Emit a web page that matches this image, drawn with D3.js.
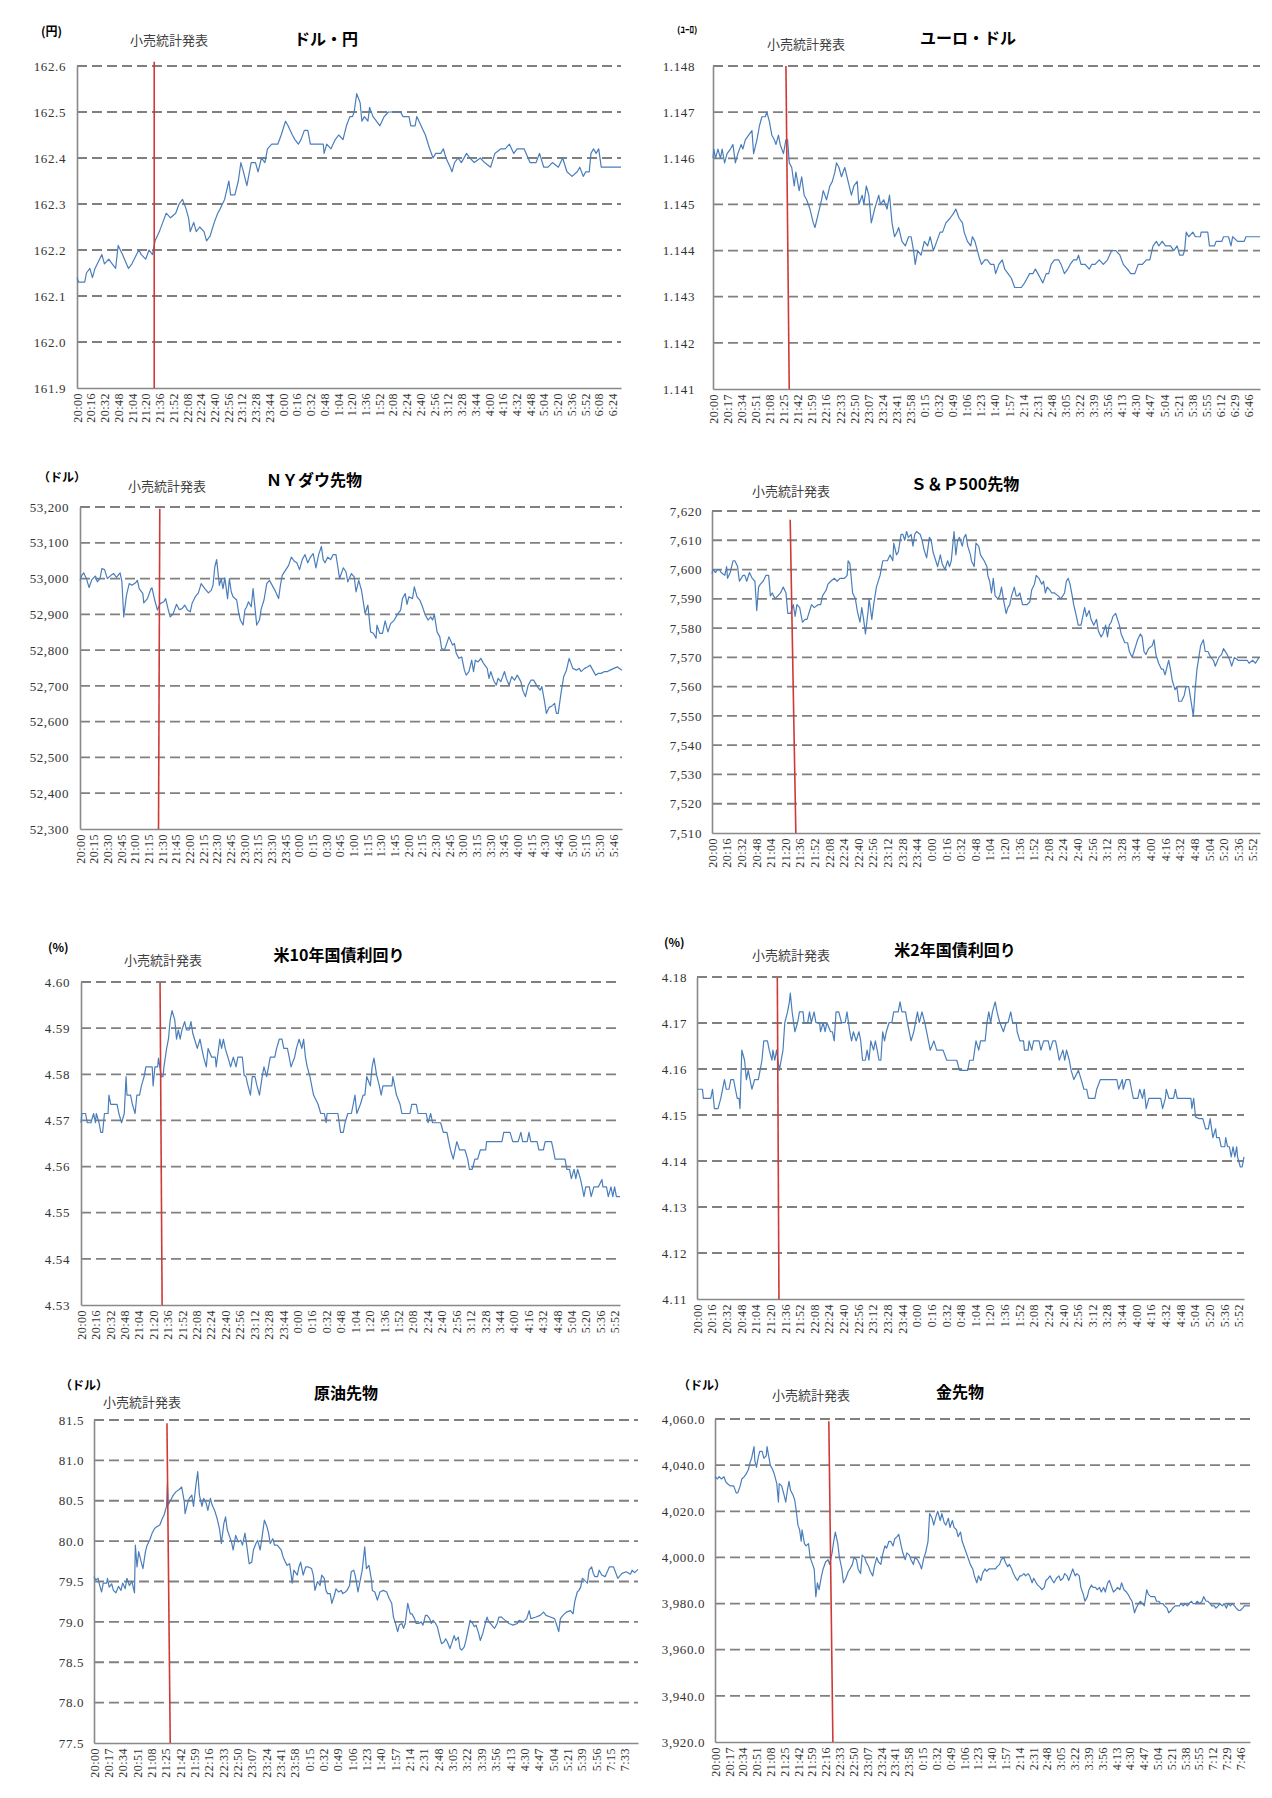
<!DOCTYPE html>
<html>
<head>
<meta charset="utf-8">
<script src="https://d3js.org/d3.v7.min.js"></script>
<style>
  body { margin: 0; background: #fff; }
  .jp { font-family: "Noto Sans CJK JP", sans-serif; }
</style>
</head>
<body>
<svg id="chart" width="1272" height="1798"></svg>
<script>
// ---- x tick labels (category axis, one label every n minutes) ----
var ticks16_624 = ["20:00","20:16","20:32","20:48","21:04","21:20","21:36","21:52","22:08","22:24","22:40","22:56","23:12","23:28","23:44","0:00","0:16","0:32","0:48","1:04","1:20","1:36","1:52","2:08","2:24","2:40","2:56","3:12","3:28","3:44","4:00","4:16","4:32","4:48","5:04","5:20","5:36","5:52","6:08","6:24"];
var ticks16_552 = ticks16_624.slice(0, 38);
var ticks17_646 = ["20:00","20:17","20:34","20:51","21:08","21:25","21:42","21:59","22:16","22:33","22:50","23:07","23:24","23:41","23:58","0:15","0:32","0:49","1:06","1:23","1:40","1:57","2:14","2:31","2:48","3:05","3:22","3:39","3:56","4:13","4:30","4:47","5:04","5:21","5:38","5:55","6:12","6:29","6:46"];
var ticks15_546 = ["20:00","20:15","20:30","20:45","21:00","21:15","21:30","21:45","22:00","22:15","22:30","22:45","23:00","23:15","23:30","23:45","0:00","0:15","0:30","0:45","1:00","1:15","1:30","1:45","2:00","2:15","2:30","2:45","3:00","3:15","3:30","3:45","4:00","4:15","4:30","4:45","5:00","5:15","5:30","5:46"];
var ticksOil = ticks17_646.slice(0, 34).concat(["5:39","5:56","7:15","7:33"]);
var ticksGold = ticks17_646.slice(0, 36).concat(["7:12","7:29","7:46"]);

// ---- y tick values ----
var usdjpyY = [161.9,162.0,162.1,162.2,162.3,162.4,162.5,162.6];
var eurusdY = [1.141,1.142,1.143,1.144,1.145,1.146,1.147,1.148];
var dowY = [52300,52400,52500,52600,52700,52800,52900,53000,53100,53200];
var spY = [7510,7520,7530,7540,7550,7560,7570,7580,7590,7600,7610,7620];
var us10Y = [4.53,4.54,4.55,4.56,4.57,4.58,4.59,4.60];
var us2Y = [4.11,4.12,4.13,4.14,4.15,4.16,4.17,4.18];
var oilY = [77.5,78.0,78.5,79.0,79.5,80.0,80.5,81.0,81.5];
var goldY = [3920,3940,3960,3980,4000,4020,4040,4060];

// ---- series: [minutes after 20:00 (category index), value] ----
var usdjpy = [[0,162.14],[2,162.13],[9,162.13],[11,162.15],[15,162.16],[18,162.14],[21,162.16],[29,162.19],[32,162.17],[37,162.18],[41,162.17],[45,162.16],[48,162.21],[53,162.19],[60,162.16],[64,162.17],[72,162.20],[75,162.19],[80,162.18],[84,162.20],[88,162.19],[91,162.22],[96,162.24],[100,162.26],[104,162.28],[109,162.27],[115,162.28],[119,162.30],[123,162.31],[127,162.29],[130,162.27],[132,162.24],[136,162.26],[139,162.24],[143,162.25],[148,162.24],[151,162.22],[155,162.23],[160,162.26],[164,162.28],[167,162.29],[172,162.31],[177,162.35],[179,162.32],[184,162.32],[188,162.35],[191,162.39],[194,162.37],[198,162.34],[203,162.39],[208,162.39],[211,162.37],[215,162.40],[219,162.39],[222,162.42],[227,162.43],[234,162.43],[238,162.45],[243,162.48],[246,162.47],[251,162.45],[254,162.44],[258,162.43],[261,162.44],[265,162.46],[269,162.46],[272,162.43],[279,162.43],[287,162.43],[288,162.41],[291,162.43],[296,162.42],[301,162.44],[305,162.45],[310,162.44],[314,162.47],[318,162.49],[321,162.49],[323,162.50],[326,162.54],[330,162.52],[332,162.48],[335,162.49],[339,162.48],[341,162.51],[345,162.49],[349,162.48],[353,162.47],[358,162.49],[363,162.50],[377,162.50],[380,162.49],[387,162.49],[389,162.47],[394,162.47],[396,162.49],[401,162.47],[406,162.45],[411,162.42],[415,162.40],[418,162.41],[424,162.41],[427,162.42],[430,162.40],[435,162.38],[437,162.37],[440,162.39],[444,162.40],[448,162.39],[454,162.41],[458,162.40],[463,162.39],[470,162.40],[475,162.39],[482,162.38],[487,162.41],[494,162.42],[499,162.42],[504,162.43],[509,162.41],[513,162.42],[521,162.42],[528,162.39],[535,162.39],[539,162.41],[544,162.38],[549,162.38],[554,162.39],[561,162.38],[566,162.40],[571,162.37],[577,162.36],[583,162.37],[586,162.38],[590,162.36],[593,162.37],[597,162.37],[599,162.41],[602,162.42],[605,162.41],[608,162.42],[611,162.38],[634,162.38]];

var eurusd = [[0,1.1460],[1,1.1462],[3,1.1460],[6,1.1462],[9,1.1460],[11,1.1462],[14,1.1459],[17,1.1461],[21,1.1462],[24,1.1463],[27,1.1459],[30,1.1461],[34,1.1463],[36,1.1462],[39,1.1464],[43,1.1465],[47,1.1466],[49,1.1461],[53,1.1464],[56,1.1467],[59,1.1469],[63,1.1469],[65,1.1470],[68,1.1468],[71,1.1465],[74,1.1464],[76,1.1463],[79,1.1465],[81,1.1463],[85,1.1461],[88,1.1464],[90,1.1464],[92,1.1459],[95,1.1458],[98,1.1454],[100,1.1457],[104,1.1453],[107,1.1456],[110,1.1452],[113,1.1451],[117,1.1449],[121,1.1446],[123,1.1445],[127,1.1448],[131,1.1451],[133,1.1453],[137,1.1451],[141,1.1454],[144,1.1455],[147,1.1457],[149,1.1459],[152,1.1458],[155,1.1456],[159,1.1458],[163,1.1455],[167,1.1452],[170,1.1454],[174,1.1455],[176,1.1450],[180,1.1452],[182,1.1450],[185,1.1454],[188,1.1452],[191,1.1446],[195,1.1449],[200,1.1452],[202,1.1450],[206,1.1451],[210,1.1449],[213,1.1452],[216,1.1446],[219,1.1443],[222,1.1444],[224,1.1445],[228,1.1442],[232,1.1441],[236,1.1443],[239,1.1443],[242,1.1440],[244,1.1437],[247,1.1440],[251,1.1439],[255,1.1442],[259,1.1441],[262,1.1443],[266,1.1440],[270,1.1442],[274,1.1444],[277,1.1444],[281,1.1446],[286,1.1447],[290,1.1448],[293,1.1449],[297,1.1447],[301,1.1446],[303,1.1444],[307,1.1442],[311,1.1441],[313,1.1443],[316,1.1442],[319,1.1440],[322,1.1438],[324,1.1437],[328,1.1438],[331,1.1438],[335,1.1437],[339,1.1437],[341,1.1435],[345,1.1437],[349,1.1438],[352,1.1436],[356,1.1435],[360,1.1434],[364,1.1432],[372,1.1432],[376,1.1433],[379,1.1434],[382,1.1435],[386,1.1435],[389,1.1436],[392,1.1435],[395,1.1434],[398,1.1433],[402,1.1435],[405,1.1435],[408,1.1437],[412,1.1438],[417,1.1438],[420,1.1437],[424,1.1435],[428,1.1436],[431,1.1437],[435,1.1438],[439,1.1438],[441,1.1439],[444,1.1437],[449,1.1437],[454,1.1436],[457,1.1437],[461,1.1437],[466,1.1438],[471,1.1437],[476,1.1438],[481,1.1440],[486,1.1440],[491,1.1439],[495,1.1437],[500,1.1436],[504,1.1435],[509,1.1435],[513,1.1437],[518,1.1437],[523,1.1438],[527,1.1438],[531,1.1441],[535,1.1442],[538,1.1441],[542,1.1442],[546,1.1441],[552,1.1441],[556,1.1440],[560,1.1441],[563,1.1439],[567,1.1439],[569,1.1440],[571,1.1444],[574,1.1443],[579,1.1444],[582,1.1443],[588,1.1443],[589,1.1444],[597,1.1444],[599,1.1441],[605,1.1441],[607,1.1442],[614,1.1442],[616,1.1443],[622,1.1443],[625,1.1441],[627,1.1443],[633,1.1442],[641,1.1442],[643,1.1443],[660,1.1443]];

var dow = [[0,52995],[2,53009],[4,53016],[7,53000],[10,52975],[13,52997],[17,53007],[19,52991],[22,53000],[24,53028],[27,53025],[30,53000],[34,53009],[37,53014],[40,53003],[44,53016],[46,52991],[48,52893],[51,52953],[54,52986],[57,52981],[61,52988],[63,52995],[65,52972],[69,52958],[70,52932],[74,52944],[78,52972],[79,52974],[82,52940],[85,52912],[88,52930],[92,52935],[94,52944],[97,52912],[99,52893],[102,52900],[106,52928],[109,52913],[112,52916],[115,52926],[118,52912],[121,52907],[123,52930],[127,52951],[130,52960],[133,52986],[137,52972],[141,52960],[144,52967],[146,52981],[148,53033],[150,53053],[153,52981],[155,53000],[157,52972],[159,53002],[162,52944],[164,53000],[166,52963],[168,52949],[172,52940],[174,52907],[176,52884],[179,52870],[181,52912],[183,52921],[185,52935],[188,52921],[190,52972],[192,52921],[194,52870],[197,52884],[199,52916],[202,52940],[205,52986],[208,52995],[211,52981],[214,52967],[218,52944],[220,52981],[222,53009],[226,53025],[229,53037],[232,53060],[235,53049],[238,53044],[241,53025],[244,53053],[247,53067],[250,53044],[253,53060],[256,53070],[259,53030],[262,53067],[265,53090],[267,53053],[269,53044],[272,53060],[275,53053],[278,53067],[281,53067],[283,53033],[285,53000],[289,53030],[292,53019],[294,52991],[298,53014],[301,53005],[303,52963],[306,52995],[309,52967],[311,52935],[313,52902],[316,52926],[319,52851],[322,52847],[325,52833],[326,52870],[329,52847],[332,52847],[335,52882],[338,52851],[341,52874],[345,52884],[349,52902],[352,52912],[354,52944],[357,52958],[359,52928],[361,52949],[365,52944],[367,52977],[370,52949],[373,52940],[376,52921],[379,52898],[382,52884],[385,52893],[387,52884],[389,52900],[392,52851],[395,52837],[397,52805],[400,52800],[402,52814],[405,52837],[409,52814],[411,52819],[413,52791],[416,52777],[419,52781],[422,52744],[424,52730],[427,52740],[430,52772],[432,52740],[434,52772],[437,52767],[440,52777],[443,52763],[447,52749],[449,52721],[451,52740],[454,52716],[457,52702],[459,52721],[462,52712],[466,52740],[468,52721],[471,52702],[474,52726],[477,52716],[480,52730],[484,52712],[486,52688],[489,52670],[492,52702],[495,52716],[498,52716],[502,52698],[505,52688],[507,52698],[510,52656],[512,52623],[515,52640],[518,52644],[521,52651],[523,52623],[525,52623],[528,52679],[531,52726],[534,52744],[537,52777],[539,52763],[541,52749],[545,52744],[548,52749],[550,52740],[554,52749],[557,52753],[560,52758],[563,52744],[566,52730],[569,52735],[572,52735],[576,52740],[579,52740],[582,52744],[586,52749],[590,52753],[593,52747],[595,52744]];

var sp500 = [[0,7598.6],[1,7600],[4,7599],[6,7600],[8,7600],[10,7599],[14,7598],[16,7601],[17,7597],[20,7599],[23,7603],[25,7603],[28,7601],[30,7596],[34,7598],[36,7598],[38,7596],[41,7599],[44,7597],[47,7596],[49,7586],[51,7594],[53,7595],[56,7596],[59,7598],[62,7598],[64,7591],[66,7592],[69,7590],[72,7591],[75,7592],[78,7594],[81,7592],[83,7585],[86,7585],[89,7588],[91,7584],[93,7588],[96,7587],[99,7582],[102,7583],[104,7583],[107,7586],[109,7588],[112,7587],[116,7588],[119,7588],[121,7591],[125,7593],[127,7595],[130,7596],[134,7597],[137,7596],[140,7597],[145,7597],[148,7598],[149,7603],[151,7602],[154,7592],[157,7590],[159,7586],[162,7582],[164,7587],[166,7583],[168,7578],[171,7586],[172,7590],[175,7583],[177,7588],[180,7594],[181,7595],[184,7598],[187,7603],[190,7603],[192,7603],[195,7605],[198,7603],[199,7609],[202,7605],[204,7606],[207,7612],[209,7612],[211,7610],[213,7613],[215,7611],[218,7612],[220,7608],[222,7612],[224,7613],[228,7612],[230,7610],[232,7607],[235,7604],[238,7611],[240,7610],[242,7606],[245,7603],[247,7601],[250,7605],[252,7602],[255,7600],[258,7603],[260,7601],[262,7603],[265,7613],[267,7605],[269,7610],[271,7611],[274,7608],[276,7611],[278,7612],[280,7608],[283,7605],[284,7603],[287,7601],[289,7609],[292,7608],[294,7605],[296,7604],[298,7603],[301,7601],[302,7598],[304,7596],[306,7592],[308,7597],[310,7591],[313,7590],[315,7591],[317,7594],[319,7590],[322,7585],[324,7587],[326,7588],[328,7591],[331,7594],[333,7591],[335,7591],[337,7592],[340,7588],[343,7588],[345,7588],[348,7589],[350,7593],[353,7595],[355,7598],[358,7597],[361,7595],[363,7596],[365,7592],[367,7594],[370,7593],[372,7592],[375,7592],[379,7591],[382,7590],[386,7592],[388,7596],[390,7597],[392,7595],[395,7590],[396,7588],[399,7584],[401,7581],[404,7581],[406,7584],[408,7587],[410,7584],[413,7586],[415,7583],[418,7581],[421,7583],[423,7579],[426,7577],[428,7578],[431,7581],[433,7577],[435,7581],[437,7582],[439,7584],[442,7585],[444,7583],[446,7581],[448,7578],[452,7575],[455,7575],[457,7572],[460,7570],[462,7572],[464,7574],[466,7576],[469,7578],[471,7577],[473,7572],[475,7571],[478,7573],[482,7574],[484,7576],[486,7571],[489,7568],[492,7566],[494,7566],[496,7564],[500,7569],[502,7566],[504,7562],[507,7559],[509,7560],[511,7555],[514,7555],[517,7557],[519,7560],[522,7560],[525,7554],[527,7550],[529,7559],[531,7566],[533,7570],[535,7574],[538,7576],[540,7572],[543,7572],[546,7570],[549,7569],[551,7567],[555,7570],[558,7571],[560,7573],[564,7571],[567,7569],[569,7567],[572,7570],[576,7569],[579,7569],[583,7569],[586,7569],[588,7568],[592,7569],[595,7568],[599,7570]];

var us10 = [[0,4.5695],[1,4.5715],[5,4.5715],[7,4.5695],[11,4.5695],[14,4.5715],[16,4.5695],[17,4.5715],[20,4.5695],[22,4.5674],[24,4.5674],[26,4.5715],[30,4.5715],[31,4.5755],[33,4.5735],[40,4.5735],[42,4.5715],[45,4.5695],[48,4.5715],[50,4.5795],[51,4.5755],[55,4.5755],[57,4.5735],[60,4.5715],[62,4.5755],[65,4.5755],[67,4.5775],[70,4.5795],[72,4.5816],[79,4.5816],[80,4.5775],[82,4.5816],[85,4.5816],[86,4.5835],[89,4.5795],[91,4.5795],[92,4.5816],[95,4.5856],[97,4.5876],[99,4.5918],[101,4.5938],[104,4.5918],[106,4.5876],[108,4.5896],[110,4.5876],[112,4.5896],[115,4.5914],[117,4.5896],[120,4.5896],[122,4.5914],[124,4.5889],[126,4.5876],[129,4.5856],[132,4.5876],[134,4.5856],[136,4.5837],[139,4.5816],[141,4.5856],[145,4.5837],[149,4.5837],[150,4.5816],[154,4.5876],[156,4.5856],[158,4.5876],[160,4.5856],[163,4.5837],[166,4.5816],[169,4.5837],[172,4.5816],[174,4.5837],[179,4.5837],[181,4.5798],[183,4.5795],[185,4.5777],[188,4.5755],[190,4.5795],[193,4.5795],[195,4.5777],[198,4.5755],[201,4.5795],[203,4.5816],[206,4.5795],[208,4.5816],[210,4.5837],[215,4.5837],[217,4.5856],[220,4.5876],[223,4.5876],[225,4.5856],[229,4.5856],[231,4.5837],[233,4.5816],[237,4.5837],[239,4.5856],[242,4.5876],[245,4.5856],[247,4.5876],[249,4.5837],[251,4.5816],[254,4.5795],[256,4.5775],[258,4.5755],[263,4.5735],[266,4.5715],[270,4.5715],[272,4.5695],[273,4.5715],[285,4.5715],[288,4.5674],[291,4.5674],[293,4.5695],[296,4.5715],[300,4.5715],[304,4.5755],[306,4.5715],[310,4.5735],[313,4.5755],[315,4.5755],[317,4.5795],[321,4.5775],[323,4.5816],[325,4.5835],[328,4.5798],[331,4.5775],[333,4.5755],[335,4.5775],[345,4.5775],[346,4.5795],[348,4.5775],[350,4.5755],[354,4.5735],[356,4.5715],[365,4.5715],[367,4.5735],[372,4.5735],[374,4.5715],[383,4.5715],[385,4.5695],[388,4.5715],[390,4.5695],[399,4.5695],[402,4.5674],[406,4.5674],[408,4.5654],[410,4.5636],[413,4.5616],[415,4.5636],[417,4.5654],[420,4.5636],[426,4.5636],[429,4.5616],[431,4.5594],[434,4.5594],[437,4.5616],[440,4.5616],[443,4.5636],[449,4.5636],[450,4.5654],[467,4.5654],[469,4.5674],[476,4.5674],[479,4.5654],[485,4.5654],[488,4.5674],[490,4.5654],[495,4.5654],[497,4.5674],[499,4.5654],[506,4.5654],[508,4.5636],[513,4.5636],[515,4.5654],[522,4.5654],[524,4.5636],[526,4.5616],[537,4.5616],[539,4.5594],[542,4.5594],[544,4.5574],[547,4.5594],[549,4.5574],[551,4.5594],[554,4.5574],[556,4.5556],[558,4.5535],[560,4.5556],[564,4.5556],[566,4.5535],[569,4.5556],[574,4.5556],[578,4.5572],[579,4.5556],[583,4.5556],[585,4.5535],[588,4.5556],[590,4.5535],[592,4.5556],[594,4.5535],[598,4.5535]];

var us2 = [[0,4.1556],[6,4.1556],[7,4.1536],[15,4.1536],[17,4.1556],[19,4.1514],[23,4.1514],[26,4.1536],[28,4.1556],[30,4.1577],[32,4.1556],[35,4.1556],[37,4.1577],[40,4.1577],[42,4.1556],[44,4.1536],[46,4.1536],[47,4.1514],[49,4.1641],[52,4.1619],[54,4.1577],[56,4.1597],[58,4.1577],[60,4.1556],[63,4.1577],[67,4.1577],[69,4.1597],[71,4.1619],[73,4.1661],[77,4.1661],[79,4.1641],[82,4.1619],[83,4.1641],[85,4.1619],[87,4.1641],[90,4.1597],[92,4.1619],[94,4.1641],[96,4.1701],[99,4.1724],[101,4.1746],[102,4.1765],[104,4.1724],[107,4.1681],[110,4.1701],[112,4.1724],[116,4.1724],[117,4.1701],[121,4.1701],[123,4.1724],[125,4.1701],[128,4.1724],[130,4.1701],[134,4.1701],[135,4.1681],[138,4.1701],[140,4.1681],[142,4.1701],[146,4.1681],[148,4.1681],[150,4.1661],[152,4.1724],[155,4.1724],[158,4.1701],[162,4.1701],[164,4.1724],[167,4.1681],[169,4.1661],[171,4.1681],[174,4.1661],[177,4.1681],[179,4.1661],[181,4.1619],[184,4.1619],[186,4.1641],[188,4.1619],[190,4.1661],[193,4.1641],[195,4.1661],[197,4.1641],[199,4.1619],[201,4.1619],[203,4.1681],[205,4.1661],[207,4.1681],[210,4.1701],[213,4.1701],[215,4.1724],[220,4.1724],[222,4.1746],[224,4.1724],[228,4.1724],[230,4.1701],[232,4.1681],[234,4.1661],[237,4.1681],[241,4.1724],[243,4.1701],[246,4.1724],[249,4.1701],[251,4.1681],[253,4.1661],[255,4.1641],[259,4.1661],[262,4.1641],[269,4.1641],[273,4.1619],[284,4.1619],[287,4.1597],[296,4.1597],[298,4.1619],[302,4.1619],[305,4.1661],[308,4.1641],[310,4.1661],[315,4.1661],[317,4.1701],[319,4.1724],[321,4.1701],[323,4.1724],[326,4.1746],[328,4.1724],[331,4.1701],[335,4.1681],[338,4.1701],[340,4.1701],[343,4.1724],[345,4.1701],[349,4.1701],[350,4.1681],[353,4.1661],[357,4.1661],[358,4.1641],[362,4.1641],[363,4.1661],[366,4.1641],[368,4.1661],[374,4.1661],[376,4.1641],[379,4.1661],[384,4.1661],[386,4.1641],[389,4.1661],[392,4.1661],[394,4.1641],[396,4.1619],[400,4.1641],[402,4.1619],[404,4.1641],[407,4.1619],[409,4.1597],[412,4.1577],[417,4.1597],[420,4.1577],[423,4.1556],[426,4.1556],[428,4.1536],[435,4.1536],[437,4.1556],[441,4.1577],[459,4.1577],[461,4.1556],[465,4.1577],[466,4.1556],[469,4.1577],[473,4.1577],[475,4.1556],[477,4.1536],[482,4.1536],[484,4.1556],[487,4.1536],[489,4.1556],[491,4.1514],[494,4.1536],[507,4.1536],[509,4.1514],[512,4.1536],[513,4.1556],[516,4.1536],[521,4.1536],[523,4.1556],[525,4.1536],[540,4.1536],[541,4.1514],[543,4.1536],[545,4.1496],[549,4.1492],[553,4.1492],[556,4.1470],[559,4.1470],[561,4.1492],[564,4.1451],[567,4.1470],[568,4.1451],[571,4.1451],[573,4.1431],[577,4.1431],[578,4.1451],[580,4.1431],[582,4.1431],[584,4.1409],[586,4.1431],[588,4.1409],[590,4.1431],[591,4.1409],[594,4.1387],[596,4.1387],[598,4.1409]];

var oil = [[0,79.56],[2,79.52],[5,79.54],[6,79.48],[9,79.37],[11,79.48],[15,79.48],[16,79.54],[18,79.43],[21,79.47],[23,79.39],[26,79.36],[29,79.44],[32,79.39],[34,79.48],[37,79.41],[39,79.54],[42,79.45],[45,79.50],[48,79.36],[49,79.95],[51,79.68],[53,79.87],[56,79.74],[58,79.66],[61,79.87],[63,79.95],[66,80.01],[69,80.10],[72,80.16],[75,80.18],[78,80.20],[81,80.28],[83,80.32],[86,80.43],[87,80.71],[88,80.45],[91,80.51],[94,80.57],[97,80.61],[101,80.64],[104,80.67],[107,80.49],[108,80.34],[111,80.47],[113,80.53],[116,80.57],[118,80.43],[121,80.71],[123,80.86],[125,80.57],[128,80.43],[130,80.53],[133,80.47],[135,80.38],[138,80.53],[140,80.45],[143,80.38],[146,80.28],[149,80.14],[151,79.97],[154,80.22],[156,80.30],[158,80.14],[161,80.05],[163,79.99],[165,79.89],[168,80.07],[171,79.99],[174,80.01],[176,79.95],[179,80.10],[181,79.95],[184,79.72],[187,79.74],[189,79.89],[192,79.97],[194,80.01],[197,79.89],[199,80.03],[202,80.26],[205,80.18],[207,80.10],[209,79.97],[212,80.03],[214,79.95],[217,79.95],[219,79.93],[222,79.89],[224,79.81],[226,79.76],[229,79.70],[232,79.72],[235,79.48],[237,79.64],[241,79.58],[243,79.68],[245,79.74],[248,79.58],[251,79.68],[254,79.68],[258,79.66],[260,79.58],[262,79.39],[265,79.50],[268,79.45],[270,79.58],[273,79.54],[275,79.39],[277,79.35],[280,79.35],[282,79.23],[285,79.33],[287,79.41],[290,79.37],[293,79.39],[295,79.35],[298,79.37],[300,79.39],[303,79.45],[305,79.62],[308,79.64],[310,79.56],[313,79.37],[315,79.48],[318,79.64],[321,79.93],[323,79.66],[326,79.70],[329,79.52],[330,79.39],[333,79.37],[336,79.27],[339,79.37],[343,79.39],[347,79.37],[350,79.29],[353,79.23],[355,79.06],[357,79.00],[360,78.88],[362,78.96],[365,78.98],[367,78.92],[369,78.98],[372,79.23],[375,79.10],[377,79.10],[380,79.04],[382,78.98],[385,78.98],[388,79.00],[390,78.96],[393,79.08],[395,79.08],[398,79.04],[400,78.98],[402,79.02],[405,78.98],[407,78.94],[410,78.81],[412,78.73],[415,78.75],[417,78.79],[419,78.75],[422,78.67],[424,78.73],[427,78.83],[429,78.77],[432,78.81],[434,78.67],[436,78.65],[439,78.69],[441,78.77],[444,78.92],[446,79.02],[449,78.98],[451,78.94],[453,78.96],[456,78.86],[458,78.77],[461,78.86],[463,78.94],[466,79.06],[468,79.00],[470,78.98],[473,78.94],[475,78.92],[478,78.98],[480,79.06],[483,79.06],[485,79.04],[490,79.00],[492,78.98],[497,78.96],[502,78.98],[504,79.02],[509,79.00],[513,79.04],[516,79.14],[518,79.04],[524,79.06],[529,79.08],[533,79.12],[536,79.08],[541,79.06],[546,79.04],[548,78.98],[551,78.88],[553,79.04],[556,79.08],[560,79.12],[565,79.14],[568,79.10],[570,79.25],[573,79.37],[575,79.39],[577,79.43],[579,79.54],[581,79.52],[585,79.48],[587,79.64],[590,79.68],[592,79.60],[594,79.56],[597,79.56],[599,79.64],[602,79.58],[606,79.56],[611,79.68],[616,79.68],[621,79.54],[626,79.60],[631,79.62],[636,79.59],[638,79.64],[641,79.61],[645,79.65]];

var gold = [[0,4035],[3,4034],[5,4035],[8,4034],[11,4035],[13,4033],[15,4032],[19,4031],[23,4031],[26,4028],[28,4028],[31,4031],[33,4034],[36,4035],[38,4036],[41,4038],[43,4041],[45,4043],[48,4048],[49,4042],[51,4039],[53,4043],[55,4046],[58,4046],[60,4043],[63,4044],[64,4048],[66,4044],[68,4040],[71,4038],[73,4036],[76,4032],[78,4024],[79,4032],[82,4031],[85,4027],[87,4024],[89,4029],[91,4033],[93,4029],[96,4027],[98,4025],[100,4020],[102,4014],[104,4012],[106,4007],[107,4012],[110,4006],[112,4005],[115,4006],[117,4000],[120,3997],[122,3995],[124,3983],[126,3989],[128,3986],[131,3992],[133,3995],[136,3998],[139,3999],[141,3997],[144,4002],[146,4007],[148,4011],[151,4006],[153,4000],[156,3995],[158,3989],[161,3991],[164,3994],[166,3995],[169,3997],[171,4000],[174,3999],[176,3995],[179,3993],[181,4001],[184,4000],[186,3998],[189,3996],[191,3994],[194,3992],[196,3996],[199,4000],[201,3998],[204,3997],[206,4001],[209,4005],[211,4004],[214,4007],[216,4007],[219,4005],[221,4008],[224,4009],[226,4010],[229,4005],[231,4002],[234,3999],[236,4002],[239,4001],[241,3999],[244,3997],[246,4000],[249,3999],[252,3997],[254,3995],[257,4000],[259,4002],[262,4007],[264,4019],[267,4017],[269,4014],[272,4018],[274,4020],[277,4016],[279,4019],[282,4015],[284,4014],[287,4017],[289,4013],[292,4016],[294,4013],[297,4012],[299,4009],[302,4011],[304,4007],[307,4004],[309,4002],[312,3999],[314,3997],[317,3995],[319,3992],[322,3989],[324,3992],[327,3990],[329,3993],[332,3995],[334,3994],[337,3995],[340,3995],[342,3995],[345,3995],[347,3996],[350,3997],[352,3999],[355,4000],[357,3998],[360,3996],[362,3997],[365,3995],[367,3993],[370,3991],[372,3990],[375,3992],[377,3992],[380,3993],[382,3992],[385,3993],[387,3992],[390,3989],[392,3991],[395,3989],[397,3988],[400,3987],[402,3986],[405,3987],[407,3990],[410,3991],[412,3992],[415,3990],[417,3989],[420,3991],[423,3992],[425,3990],[428,3991],[430,3993],[433,3992],[435,3990],[438,3993],[440,3995],[443,3992],[445,3993],[448,3992],[450,3987],[453,3984],[455,3981],[458,3983],[460,3986],[463,3988],[465,3987],[468,3987],[470,3986],[473,3987],[475,3985],[478,3987],[480,3985],[483,3989],[485,3990],[488,3987],[490,3985],[493,3986],[495,3987],[498,3986],[500,3989],[503,3986],[506,3985],[508,3984],[511,3982],[513,3981],[516,3976],[518,3978],[521,3980],[523,3981],[526,3980],[528,3979],[531,3986],[533,3984],[536,3983],[538,3983],[541,3983],[543,3981],[546,3981],[548,3980],[551,3980],[553,3979],[556,3978],[558,3976],[561,3977],[563,3978],[566,3979],[568,3979],[571,3979],[573,3980],[576,3979],[578,3980],[581,3979],[583,3980],[586,3981],[588,3980],[591,3980],[593,3981],[596,3980],[599,3981],[601,3983],[604,3981],[606,3981],[609,3980],[611,3979],[614,3979],[616,3978],[619,3979],[621,3980],[624,3979],[626,3980],[629,3978],[631,3980],[634,3979],[636,3980],[639,3979],[641,3978],[644,3977],[646,3977],[649,3978],[651,3979],[654,3979],[658,3979]];

// ---- panel layout / options ----
var panels = [
  { title: "ドル・円", unit: "(円)", unitSize: 12, data: usdjpy, xLabels: ticks16_624, step: 16, span: 634, yTicks: usdjpyY, fmt: ".1f",
    left: 77, right: 621, top: 66, bottom: 388, gap: 11, red: [90, 90, 162.609],
    unitPos: [41, 36], notePos: [169, 45], titlePos: [326, 45] },
  { title: "ユーロ・ドル", unit: "(ﾕｰﾛ)", unitSize: 9, data: eurusd, xLabels: ticks17_646, step: 17, span: 660, yTicks: eurusdY, fmt: ".3f",
    left: 713, right: 1260, top: 66, bottom: 389, gap: 18, red: [88, 92, 1.148],
    unitPos: [677, 33], notePos: [806, 49], titlePos: [968, 44] },
  { title: "ＮＹダウ先物", unit: "（ドル）", unitSize: 12, data: dow, xLabels: ticks15_546, step: 15, span: 595, yTicks: dowY, fmt: ",.0f",
    left: 80, right: 622, top: 507, bottom: 829, gap: 11, red: [87.6, 86.2, 53195],
    unitPos: [38, 482], notePos: [167, 491], titlePos: [314, 486] },
  { title: "Ｓ＆Ｐ500先物", unit: "", unitSize: 12, data: sp500, xLabels: ticks16_552, step: 16, span: 600, yTicks: spY, fmt: ",.0f",
    left: 712, right: 1260, top: 511, bottom: 833, gap: 10, red: [85.6, 91.8, 7617],
    unitPos: [0, 0], notePos: [791, 496], titlePos: [965, 490] },
  { title: "米10年国債利回り", unit: "(%)", unitSize: 12, data: us10, xLabels: ticks16_552, step: 16, span: 598, yTicks: us10Y, fmt: ".2f",
    left: 81, right: 620, top: 982, bottom: 1305, gap: 11, red: [87.7, 90, 4.5998],
    unitPos: [48, 952], notePos: [163, 965], titlePos: [339, 961] },
  { title: "米2年国債利回り", unit: "(%)", unitSize: 12, data: us2, xLabels: ticks16_552, step: 16, span: 598, yTicks: us2Y, fmt: ".2f",
    left: 697, right: 1244, top: 977, bottom: 1299, gap: 10, red: [87.8, 89.6, 4.1798],
    unitPos: [664, 947], notePos: [791, 960], titlePos: [955, 956] },
  { title: "原油先物", unit: "（ドル）", unitSize: 12, data: oil, xLabels: ticksOil, step: 17, span: 645, yTicks: oilY, fmt: ".1f",
    left: 94, right: 638, top: 1420, bottom: 1743, gap: 10, red: [86.5, 90.4, 81.46],
    unitPos: [60, 1390], notePos: [142, 1407], titlePos: [346, 1399] },
  { title: "金先物", unit: "（ドル）", unitSize: 12, data: gold, xLabels: ticksGold, step: 17, span: 658, yTicks: goldY, fmt: ",.1f",
    left: 715, right: 1250, top: 1419, bottom: 1742, gap: 10, red: [140, 145, 4059],
    unitPos: [678, 1390], notePos: [811, 1400], titlePos: [960, 1398] }
];

var svg = d3.select('#chart');
svg.append('rect').attr('width', 1272).attr('height', 1798).attr('fill', '#fff');

function drawPanel(p) {
  var g = svg.append('g');
  var yMin = p.yTicks[0], yMax = p.yTicks[p.yTicks.length - 1];
  var x = d3.scaleLinear().domain([0, p.span]).range([p.left, p.right]);
  var y = d3.scaleLinear().domain([yMin, yMax]).range([p.bottom, p.top]);

  // dashed horizontal gridlines
  g.selectAll('line.grid').data(p.yTicks.slice(1)).enter().append('line')
    .attr('class', 'grid')
    .attr('x1', p.left).attr('x2', p.right)
    .attr('y1', function (d) { return y(d); })
    .attr('y2', function (d) { return y(d); })
    .attr('stroke', '#808080').attr('stroke-width', 1.8)
    .attr('stroke-dasharray', '10,5');

  // y axis
  var yAxis = d3.axisLeft(y).tickValues(p.yTicks)
    .tickFormat(d3.format(p.fmt)).tickSize(0).tickPadding(p.gap);
  var ya = g.append('g').attr('transform', 'translate(' + p.left + ',0)').call(yAxis);
  ya.attr('font-family', '"Liberation Serif", "DejaVu Serif", serif').attr('font-size', 13);
  ya.select('.domain').attr('stroke', '#898989').attr('stroke-width', 1.6);
  ya.selectAll('text').attr('fill', '#333').attr('letter-spacing', '0.6px');

  // x axis (category labels, vertical)
  var xAxis = d3.axisBottom(x)
    .tickValues(p.xLabels.map(function (l, i) { return i * p.step; }))
    .tickFormat(function (d, i) { return p.xLabels[i]; })
    .tickSize(0).tickSizeOuter(0);
  var xa = g.append('g').attr('transform', 'translate(0,' + p.bottom + ')').call(xAxis);
  xa.attr('font-family', '"Liberation Serif", "DejaVu Serif", serif').attr('font-size', 12);
  xa.select('.domain').attr('stroke', '#898989').attr('stroke-width', 1.6);
  xa.selectAll('text')
    .attr('transform', 'rotate(-90)')
    .attr('text-anchor', 'end')
    .attr('x', -5).attr('y', 0).attr('dy', '0.35em')
    .attr('fill', '#333').attr('letter-spacing', '0.5px');

  // series line
  var line = d3.line()
    .x(function (d) { return x(d[0]); })
    .y(function (d) { return y(d[1]); });
  g.append('path').datum(p.data)
    .attr('d', line)
    .attr('fill', 'none')
    .attr('stroke', '#4a7ebb')
    .attr('stroke-width', 1.2)
    .attr('stroke-linejoin', 'round');

  // release marker
  g.append('line')
    .attr('x1', x(p.red[0])).attr('y1', y(p.red[2]))
    .attr('x2', x(p.red[1])).attr('y2', y(yMin))
    .attr('stroke', '#cf3a36').attr('stroke-width', 1.6);

  // texts
  if (p.unit) {
    g.append('text').attr('class', 'jp')
      .attr('x', p.unitPos[0]).attr('y', p.unitPos[1])
      .attr('font-size', p.unitSize).attr('font-weight', 'bold')
      .text(p.unit);
  }
  g.append('text').attr('class', 'jp')
    .attr('x', p.notePos[0]).attr('y', p.notePos[1])
    .attr('text-anchor', 'middle')
    .attr('font-size', 13).attr('fill', '#404040')
    .text('小売統計発表');
  g.append('text').attr('class', 'jp')
    .attr('x', p.titlePos[0]).attr('y', p.titlePos[1])
    .attr('text-anchor', 'middle')
    .attr('font-size', 16).attr('font-weight', 'bold')
    .text(p.title);
}

panels.forEach(drawPanel);
</script>
</body>
</html>
